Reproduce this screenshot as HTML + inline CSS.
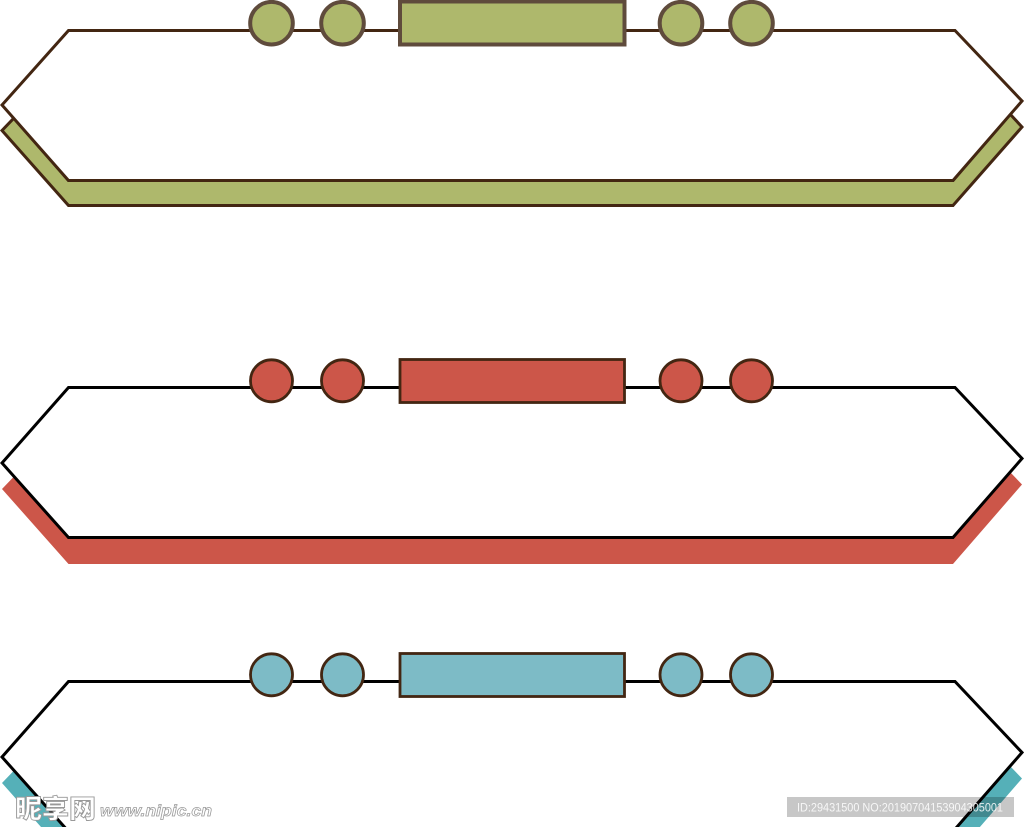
<!DOCTYPE html>
<html><head><meta charset="utf-8"><style>
html,body{margin:0;padding:0;background:#fff;width:1024px;height:827px;overflow:hidden}
svg{display:block}
</style></head><body>
<svg width="1024" height="827" viewBox="0 0 1024 827" xmlns="http://www.w3.org/2000/svg">
<rect width="1024" height="827" fill="#fff"/>
<!-- Green -->
<g stroke="#432612" stroke-width="3" stroke-linejoin="miter">
<polygon points="2,130.5 14,118 68.5,180.5 953,180.5 1010,114 1022,127 953,205.5 68.5,205.5" fill="#aeb86c"/>
<polygon points="68.5,30.5 955,30.5 1022,101 953,180.5 68.5,180.5 2,105" fill="#fff"/>
</g>
<g fill="#aeb86c" stroke="#5f4b3c" stroke-width="4">
<circle cx="271.5" cy="23.2" r="21.3"/><circle cx="342.5" cy="23.2" r="21.3"/>
<rect x="400" y="1.5" width="224.5" height="43"/>
<circle cx="681" cy="23.2" r="21.3"/><circle cx="751.5" cy="23.2" r="21.3"/>
</g>
<!-- Red -->
<polygon points="2,489 13.5,477 68.5,537.5 953,537.5 1010,472 1022,484.5 953,564 68.5,564" fill="#cc5649"/>
<polygon points="68.5,387.5 955,387.5 1022,458.5 953,537.5 68.5,537.5 2,463" fill="#fff" stroke="#000" stroke-width="3"/>
<g fill="#cc5649" stroke="#432612" stroke-width="2.8">
<circle cx="271.5" cy="380.8" r="21"/><circle cx="342.5" cy="380.8" r="21"/>
<rect x="400" y="359.5" width="224.5" height="43"/>
<circle cx="681" cy="380.8" r="21"/><circle cx="751.5" cy="380.8" r="21"/>
</g>
<!-- Blue -->
<polygon points="2,783 13.5,771 68.5,831.5 953,831.5 1010,766 1022,778.5 953,858 68.5,858" fill="#55b0b8"/>
<polygon points="68.5,681.5 955,681.5 1022,752.5 953,831.5 68.5,831.5 2,757" fill="#fff" stroke="#000" stroke-width="3"/>
<g fill="#7dbbc6" stroke="#432612" stroke-width="2.8">
<circle cx="271.5" cy="674.8" r="21"/><circle cx="342.5" cy="674.8" r="21"/>
<rect x="400" y="653.5" width="224.5" height="43"/>
<circle cx="681" cy="674.8" r="21"/><circle cx="751.5" cy="674.8" r="21"/>
</g>
<!-- Watermarks -->
<text x="15" y="818" font-family="'Noto Sans CJK SC',sans-serif" font-weight="900" font-size="26" fill="#fff" stroke="#999" stroke-width="0.9" textLength="81" lengthAdjust="spacingAndGlyphs">昵享网</text>
<text x="100" y="816" font-family="'Liberation Sans',sans-serif" font-weight="700" font-style="italic" font-size="16" fill="#fff" stroke="#999" stroke-width="0.7" textLength="112" lengthAdjust="spacingAndGlyphs">www.nipic.cn</text>
<rect x="787" y="797" width="227" height="20" fill="#000" fill-opacity="0.22"/>
<text x="797" y="811.5" font-family="'Liberation Sans',sans-serif" font-size="12" fill="#fff" fill-opacity="0.85" textLength="206" lengthAdjust="spacingAndGlyphs">ID:29431500 NO:20190704153904305001</text>
</svg>
</body></html>
